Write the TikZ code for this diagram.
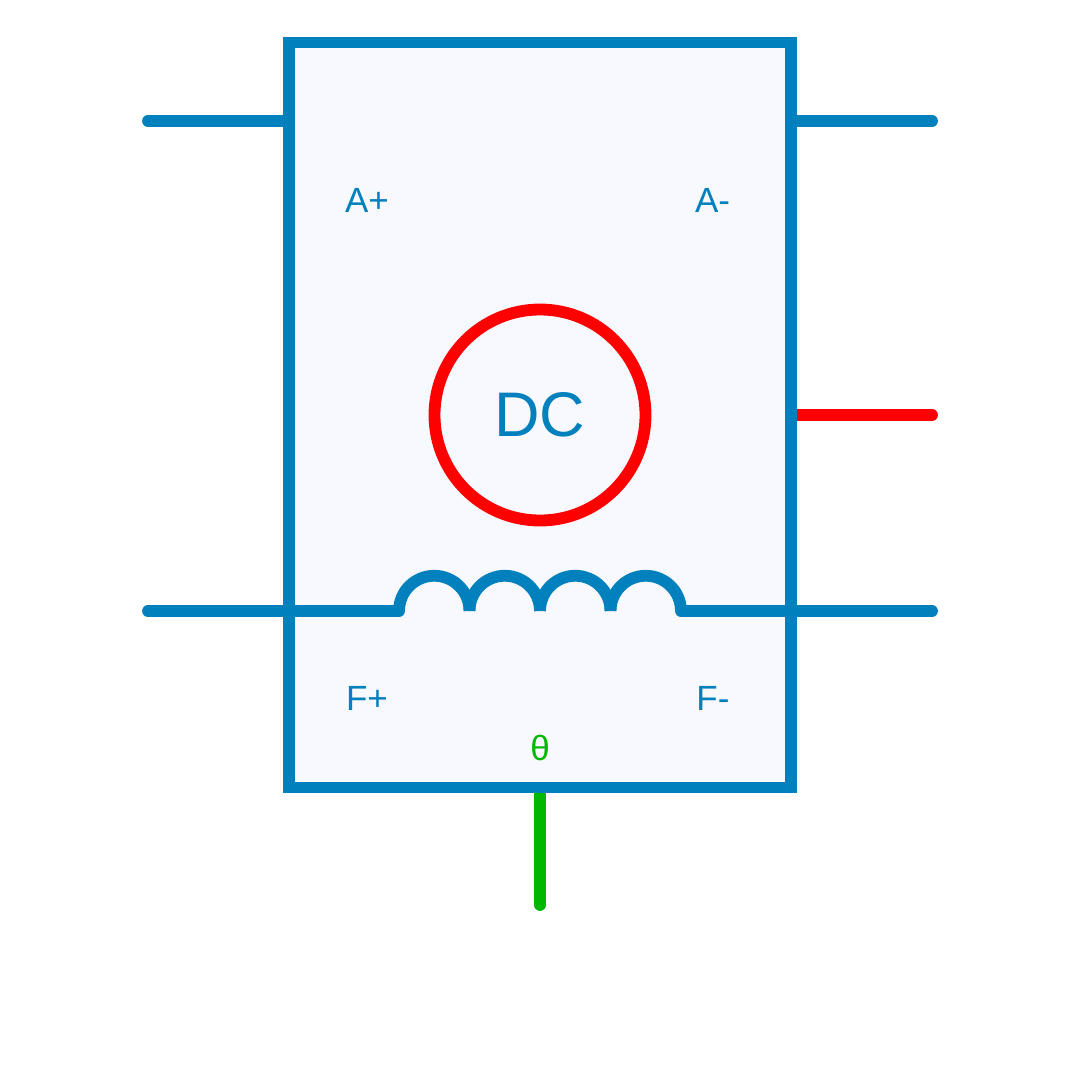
\documentclass[tikz,border=0pt]{standalone}
\usepackage{fontspec}
\setmainfont{Liberation Sans}
\definecolor{wireblue}{HTML}{0080BC}
\definecolor{wirered}{HTML}{FF0000}
\definecolor{wiregreen}{HTML}{00B800}
\definecolor{panel}{HTML}{F8F9FF}
\tikzset{
  wire/.style={line width=11.8pt,line cap=round,draw=#1},
  wire/.default=wireblue,
  coilturn/.style={line width=11.8pt,line cap=butt,draw=wireblue},
  pinlabel/.style={text=wireblue,inner sep=0pt,font=\fontsize{35}{35}\selectfont},
}
\begin{document}
\begin{tikzpicture}[x=1pt,y=-1pt]
\useasboundingbox[fill=white] (0,0) rectangle (1080,1080);
% free ends and junctions
\coordinate (aplusEnd) at (148,121);
\coordinate (aplusIn) at (289,121);
\coordinate (aminusEnd) at (932,121);
\coordinate (aminusIn) at (791,121);
\coordinate (redEnd) at (932,415);
\coordinate (redIn) at (791,415);
\coordinate (fplusEnd) at (148,611);
\coordinate (fminusEnd) at (932,611);
\coordinate (greenEnd) at (540,905);
\coordinate (greenIn) at (540,787);
\coordinate (coilA) at (399,611);
\coordinate (coilB) at (469.5,611);
\coordinate (coilC) at (540,611);
\coordinate (coilD) at (610.5,611);
\coordinate (coilE) at (681,611);
% wires running beneath the frame
\draw[wire=wirered] (redIn) -- (redEnd);
\draw[wire=wiregreen] (greenIn) -- (greenEnd);
% frame
\node[draw=wireblue,fill=panel,line width=11.7pt,rectangle,outer sep=0pt,inner sep=0pt,
      minimum width=501.7pt,minimum height=745pt] (frame) at (540,415) {};
% rotor
\node[draw=wirered,circle,line width=11.8pt,outer sep=0pt,inner sep=0pt,minimum size=211pt,
      text=wireblue,font=\fontsize{63}{63}\selectfont] (rotor) at (540,415) {\raisebox{0.5pt}{DC}};
% wires
\draw[wire] (aplusEnd) -- (aplusIn);
\draw[wire] (aminusIn) -- (aminusEnd);
\draw[wire] (fplusEnd) -- (coilA);
\draw[wire] (coilE) -- (fminusEnd);
% coil
\draw[coilturn] (coilA) arc[start angle=180,end angle=360,radius=35.25];
\draw[coilturn] (coilB) arc[start angle=180,end angle=360,radius=35.25];
\draw[coilturn] (coilC) arc[start angle=180,end angle=360,radius=35.25];
\draw[coilturn] (coilD) arc[start angle=180,end angle=360,radius=35.25];
% labels
\node[pinlabel] (lAp) at (367,200) {A+};
\node[pinlabel] (lAm) at (712.5,200) {A-};
\node[pinlabel] (lFp) at (367,698) {F+};
\node[pinlabel] (lFm) at (713,698) {F-};
\node[pinlabel,text=wiregreen] (lTh) at (540,748) {θ};
\end{tikzpicture}
\end{document}
